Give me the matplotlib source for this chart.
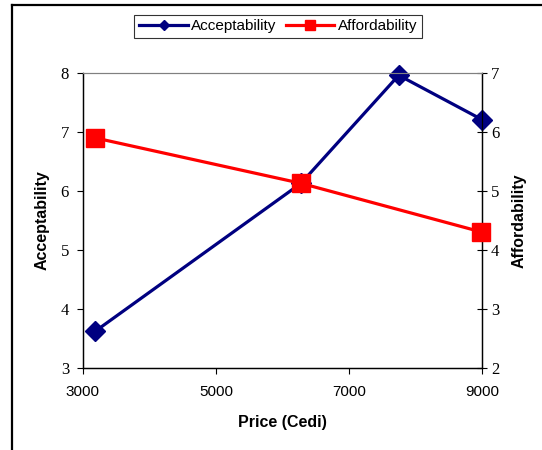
import matplotlib
matplotlib.use('Agg')
from matplotlib import pyplot as plt
from matplotlib.lines import Line2D

# data
price_acc = [3180, 6280, 7750, 9000]
acceptability = [3.62, 6.13, 7.96, 7.21]
price_aff = [3180, 6280, 8980]
affordability = [5.90, 5.13, 4.31]

navy = '#000080'
red = '#FF0000'
sans = 'Liberation Sans'
serif = 'Liberation Serif'

fig = plt.figure(figsize=(5.42, 4.5), dpi=100)
ax = fig.add_axes([0.153, 0.182, 0.736, 0.656])
ax2 = ax.twinx()

l1, = ax.plot(price_acc, acceptability, color=navy, lw=2.3, marker='D',
              markersize=10, label='Acceptability', zorder=3, clip_on=False)
l2, = ax2.plot(price_aff, affordability, color=red, lw=2.3, marker='s',
               markersize=13, label='Affordability', zorder=3, clip_on=False)

ax.set_xlim(3000, 9000)
ax.set_ylim(3, 8)
ax2.set_ylim(2, 7)
ax.set_xticks([3000, 5000, 7000, 9000])
ax.set_yticks(range(3, 9))
ax2.set_yticks(range(2, 8))

for lab in ax.get_xticklabels():
    lab.set_fontfamily(sans)
    lab.set_fontsize(11)
for lab in ax.get_yticklabels() + ax2.get_yticklabels():
    lab.set_fontfamily(serif)
    lab.set_fontsize(12)

ax.tick_params(axis='x', direction='out', length=4, width=0.8, pad=8)
ax.tick_params(axis='y', direction='out', length=4, width=0.8, pad=6)
ax2.tick_params(axis='y', direction='inout', length=7, width=0.8, pad=3)

for a in (ax, ax2):
    a.spines['top'].set_color('#808080')
    for s in ('left', 'right', 'bottom'):
        a.spines[s].set_color('black')
        a.spines[s].set_linewidth(0.9)

ax.set_xlabel('Price (Cedi)', fontfamily=sans, fontweight='bold', fontsize=11.5, labelpad=12)
ax.set_ylabel('Acceptability', fontfamily=sans, fontweight='bold', fontsize=11.5, labelpad=8)
ax2.set_ylabel('Affordability', fontfamily=sans, fontweight='bold', fontsize=11.5, labelpad=9)

ax2.set_zorder(ax.get_zorder() + 1)

leg = fig.legend([l1, l2], ['Acceptability', 'Affordability'], loc='center',
                 bbox_to_anchor=(0.513, 0.942), ncol=2, frameon=True, fancybox=False,
                 edgecolor='black', markerscale=0.55, handlelength=3.2, handletextpad=0.2,
                 columnspacing=0.6, borderpad=0.3, prop={'family': sans, 'size': 11})
leg.get_frame().set_linewidth(0.8)

# outer border (left and top)
fig.add_artist(Line2D([12 / 542, 12 / 542], [0, 1 - 5 / 450], color='black', lw=1.6,
                      transform=fig.transFigure))
fig.add_artist(Line2D([12 / 542, 1], [1 - 5 / 450, 1 - 5 / 450], color='black', lw=1.6,
                      transform=fig.transFigure))

fig.savefig('out.png', dpi=100)
